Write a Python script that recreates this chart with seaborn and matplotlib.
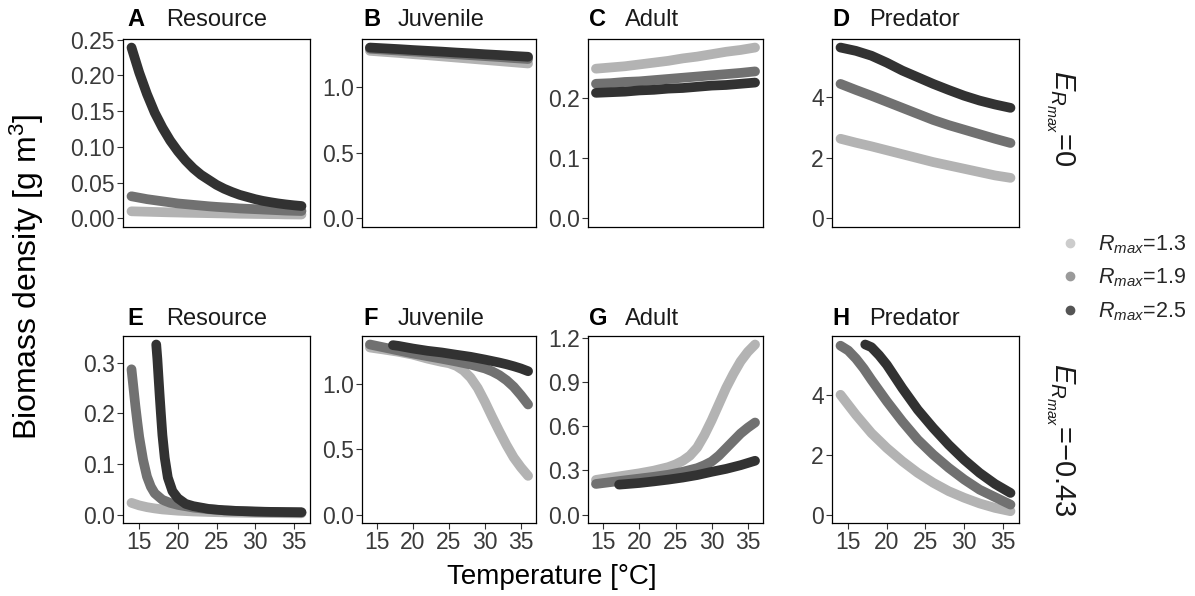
import numpy as np
import pandas as pd
import matplotlib
matplotlib.use("Agg")
import matplotlib.pyplot as plt
from matplotlib.lines import Line2D
from matplotlib.ticker import MultipleLocator, FormatStrFormatter
import seaborn as sns

# ---------------- data ----------------
RMAX_LABELS = ["Rmax=1.3", "Rmax=1.9", "Rmax=2.5"]
LINE_COLORS = ["#b3b3b3", "#717171", "#323232"]
LEGEND_COLORS = ["#cccccc", "#9a9a9a", "#555555"]

T_FULL = list(range(14, 37))
T_TOP = [14, 16, 18, 20, 22, 24, 26, 28, 30, 32, 34, 36]

# Row 1 (E_Rmax = 0)
A_light = [0.0100, 0.0097, 0.0094, 0.0091, 0.0088, 0.0085, 0.0083, 0.0080, 0.0078, 0.0076, 0.0074, 0.0072,
           0.0070, 0.0068, 0.0066, 0.0065, 0.0063, 0.0062, 0.0060, 0.0059, 0.0057, 0.0056, 0.0055]
A_mid = [0.031, 0.029, 0.027, 0.0255, 0.024, 0.0225, 0.021, 0.020, 0.019, 0.018, 0.017, 0.0162,
         0.0155, 0.0148, 0.014, 0.0135, 0.013, 0.0125, 0.012, 0.0115, 0.011, 0.0107, 0.0104]
A_dark = [0.239, 0.204, 0.174, 0.148, 0.127, 0.109, 0.094, 0.081, 0.070, 0.061, 0.054, 0.047,
          0.0415, 0.037, 0.033, 0.030, 0.027, 0.0246, 0.0227, 0.021, 0.0196, 0.0184, 0.0174]

B_light = [1.272, 1.264, 1.256, 1.247, 1.239, 1.230, 1.221, 1.212, 1.203, 1.194, 1.185, 1.176]
B_mid = [1.288, 1.281, 1.274, 1.267, 1.260, 1.253, 1.246, 1.239, 1.232, 1.225, 1.217, 1.210]
B_dark = [1.297, 1.291, 1.285, 1.278, 1.272, 1.266, 1.259, 1.253, 1.246, 1.240, 1.233, 1.227]

C_light = [0.248, 0.250, 0.252, 0.255, 0.258, 0.261, 0.265, 0.268, 0.272, 0.276, 0.279, 0.283]
C_mid = [0.223, 0.224, 0.226, 0.227, 0.229, 0.231, 0.233, 0.235, 0.237, 0.239, 0.241, 0.2435]
C_dark = [0.208, 0.209, 0.210, 0.212, 0.213, 0.215, 0.216, 0.218, 0.220, 0.221, 0.223, 0.225]

D_light = [2.63, 2.50, 2.38, 2.25, 2.12, 1.99, 1.86, 1.75, 1.64, 1.53, 1.42, 1.34]
D_mid = [4.44, 4.24, 4.05, 3.85, 3.65, 3.45, 3.25, 3.08, 2.93, 2.78, 2.63, 2.49]
D_dark = [5.64, 5.53, 5.37, 5.14, 4.88, 4.66, 4.44, 4.24, 4.05, 3.89, 3.76, 3.65]

# Row 2 (E_Rmax = -0.43)
E_light_T = [14, 15, 16, 17, 18, 20, 22, 24, 26, 28, 30, 32, 34, 36]
E_light = [0.023, 0.018, 0.0145, 0.012, 0.010, 0.0075, 0.006, 0.005, 0.0042, 0.0036, 0.0032, 0.0028, 0.0025, 0.0023]
E_mid_T = [14, 14.25, 14.5, 14.75, 15, 15.5, 16, 16.5, 17, 18, 19, 20, 22, 24, 26, 28, 30, 32, 34, 36]
E_mid = [0.287, 0.251, 0.215, 0.183, 0.153, 0.108, 0.075, 0.055, 0.042, 0.029, 0.023, 0.019,
         0.0137, 0.0104, 0.0083, 0.0068, 0.0057, 0.0049, 0.0043, 0.0038]
E_dark_T = [17.2, 17.35, 17.5, 17.65, 17.8, 18.0, 18.3, 18.7, 19.3, 20, 21, 22, 24, 26, 28, 30, 32, 34, 36]
E_dark = [0.336, 0.307, 0.270, 0.234, 0.200, 0.157, 0.112, 0.073, 0.046, 0.032, 0.021, 0.0165,
          0.011, 0.0082, 0.0068, 0.0058, 0.0052, 0.0048, 0.0045]

F_light_T = [14, 16, 18, 20, 22, 24, 25, 26, 27, 28, 29, 30, 31, 32, 33, 34, 35, 36]
F_light = [1.275, 1.259, 1.242, 1.220, 1.190, 1.165, 1.155, 1.135, 1.100, 1.045, 0.965, 0.860,
           0.745, 0.635, 0.530, 0.435, 0.360, 0.295]
F_mid_T = [14, 16, 18, 20, 22, 24, 26, 28, 30, 31, 32, 33, 34, 35, 36]
F_mid = [1.298, 1.275, 1.252, 1.229, 1.209, 1.189, 1.168, 1.145, 1.115, 1.093, 1.064, 1.025, 0.975, 0.911, 0.840]
F_dark_T = [17.2, 18, 20, 22, 24, 26, 28, 30, 32, 33, 34, 35, 36]
F_dark = [1.293, 1.287, 1.267, 1.250, 1.237, 1.220, 1.204, 1.183, 1.160, 1.147, 1.132, 1.115, 1.094]

G_light_T = [14, 16, 18, 20, 22, 24, 25, 26, 27, 28, 29, 30, 31, 32, 33, 34, 35, 36]
G_light = [0.235, 0.250, 0.265, 0.280, 0.298, 0.322, 0.340, 0.365, 0.400, 0.455, 0.540, 0.640,
           0.750, 0.860, 0.955, 1.040, 1.105, 1.155]
G_mid_T = [14, 16, 18, 20, 22, 24, 26, 28, 29, 30, 31, 32, 33, 34, 35, 36]
G_mid = [0.2075, 0.220, 0.232, 0.244, 0.256, 0.270, 0.290, 0.315, 0.335, 0.360, 0.400, 0.450,
         0.500, 0.550, 0.590, 0.625]
G_dark_T = [17.2, 18, 20, 22, 24, 26, 28, 30, 32, 34, 36]
G_dark = [0.203, 0.206, 0.214, 0.225, 0.237, 0.251, 0.268, 0.290, 0.310, 0.335, 0.365]

H_light_T = [14, 16, 18, 20, 22, 24, 26, 28, 30, 32, 34, 36]
H_light = [4.00, 3.33, 2.72, 2.22, 1.78, 1.39, 1.06, 0.78, 0.56, 0.37, 0.22, 0.11]
H_mid_T = [14, 15, 16, 17, 18, 20, 22, 24, 26, 28, 30, 32, 34, 36]
H_mid = [5.64, 5.48, 5.21, 4.88, 4.50, 3.78, 3.11, 2.50, 2.00, 1.56, 1.17, 0.83, 0.58, 0.33]
H_dark_T = [17.2, 18, 19, 20, 22, 24, 26, 28, 30, 32, 34, 36]
H_dark = [5.68, 5.59, 5.32, 5.00, 4.22, 3.50, 2.89, 2.33, 1.83, 1.39, 1.02, 0.72]

PANEL_LETTERS = ["A", "B", "C", "D", "E", "F", "G", "H"]
PANEL_NAMES = ["Resource", "Juvenile", "Adult", "Predator"] * 2
Y_STEPS = [0.05, 0.5, 0.1, 2, 0.1, 0.5, 0.3, 2]
Y_FORMATS = ["%.2f", "%.1f", "%.1f", "%d", "%.1f", "%.1f", "%.1f", "%d"]
X_TICKS = [15, 20, 25, 30, 35]
ROW_LABELS = [r"$E_{R_{max}}$=0", r"$E_{R_{max}}$=−0.43"]

PANELS = [
    [(T_FULL, A_light), (T_FULL, A_mid), (T_FULL, A_dark)],
    [(T_TOP, B_light), (T_TOP, B_mid), (T_TOP, B_dark)],
    [(T_TOP, C_light), (T_TOP, C_mid), (T_TOP, C_dark)],
    [(T_TOP, D_light), (T_TOP, D_mid), (T_TOP, D_dark)],
    [(E_light_T, E_light), (E_mid_T, E_mid), (E_dark_T, E_dark)],
    [(F_light_T, F_light), (F_mid_T, F_mid), (F_dark_T, F_dark)],
    [(G_light_T, G_light), (G_mid_T, G_mid), (G_dark_T, G_dark)],
    [(H_light_T, H_light), (H_mid_T, H_mid), (H_dark_T, H_dark)],
]

# ---------------- style ----------------
sns.set_theme(style="white")
plt.rcParams["font.family"] = ["Liberation Sans", "DejaVu Sans"]
plt.rcParams["mathtext.fontset"] = "custom"
plt.rcParams["mathtext.rm"] = "Liberation Sans"
plt.rcParams["mathtext.it"] = "Liberation Sans:italic"
plt.rcParams["mathtext.bf"] = "Liberation Sans:bold"

W, H = 1195, 596
fig = plt.figure(figsize=(W / 100, H / 100), dpi=100)
fig.patch.set_facecolor("white")

cols = [(123, 310), (362, 536), (588, 763), (832, 1019)]
rows = [(39, 227), (336, 523)]
letter_x = [127, 363, 589, 832]
word_x = [166, 398, 625, 869]
title_y = [26, 325]
row_label_y = [118, 440]


def rect(l, t, r, b):
    return [l / W, 1 - b / H, (r - l) / W, (b - t) / H]


for i, series in enumerate(PANELS):
    r, c = divmod(i, 4)
    ax = fig.add_axes(rect(cols[c][0], rows[r][0], cols[c][1], rows[r][1]))
    frames = []
    for lab, (tt, vv) in zip(RMAX_LABELS, series):
        frames.append(pd.DataFrame({"T": tt, "B": vv, "Rmax": lab}))
    df = pd.concat(frames, ignore_index=True)
    sns.lineplot(data=df, x="T", y="B", hue="Rmax", hue_order=RMAX_LABELS,
                 palette=LINE_COLORS, linewidth=7.0, legend=False, ax=ax,
                 estimator=None, sort=True, solid_capstyle="round",
                 solid_joinstyle="round")
    # ggplot-like limits: include 0, 5% expansion
    ally = df["B"].to_numpy()
    xlo, xhi = 14, 36
    xpad = 0.05 * (xhi - xlo)
    ax.set_xlim(xlo - xpad, xhi + xpad)
    ylo, yhi = min(0, ally.min()), ally.max()
    ypad = 0.05 * (yhi - ylo)
    ax.set_ylim(ylo - ypad, yhi + ypad)
    ax.yaxis.set_major_locator(MultipleLocator(Y_STEPS[i]))
    ax.yaxis.set_major_formatter(FormatStrFormatter(Y_FORMATS[i]))
    ax.set_xlabel("")
    ax.set_ylabel("")
    for s in ax.spines.values():
        s.set_visible(True)
        s.set_color("black")
        s.set_linewidth(0.9)
    ax.tick_params(axis="y", left=True, length=4, width=0.8, color="#333333",
                   labelsize=16.5, labelcolor="#3a3a3a", pad=2)
    if r == 0:
        ax.set_xticks([])
    else:
        ax.set_xticks(X_TICKS)
        ax.tick_params(axis="x", bottom=True, length=4, width=0.8, color="#333333",
                       labelsize=16.5, labelcolor="#3a3a3a", pad=2)
    fig.text(letter_x[c] / W, 1 - title_y[r] / H, PANEL_LETTERS[i], fontsize=17,
             fontweight="bold", ha="left", va="baseline", color="black")
    fig.text(word_x[c] / W, 1 - title_y[r] / H, PANEL_NAMES[i], fontsize=17,
             ha="left", va="baseline", color="#1a1a1a")

# row strip labels
for r, lab in enumerate(ROW_LABELS):
    fig.text(1060 / W, 1 - row_label_y[r] / H, lab, rotation=-90, fontsize=21,
             ha="center", va="center", color="#1a1a1a")

# axis titles
fig.text(552 / W, 1 - 577 / H, "Temperature [°C]", fontsize=20,
         ha="center", va="center", color="black")
fig.text(27 / W, 1 - 277 / H, "Biomass density [g m$^3$]", fontsize=23,
         rotation=90, ha="center", va="center", color="black")

# legend
handles = [Line2D([], [], marker="o", ls="", color=col, markersize=6)
           for col in LEGEND_COLORS]
labels = [r"$R_{max}$=1.3", r"$R_{max}$=1.9", r"$R_{max}$=2.5"]
fig.legend(handles, labels, loc="center left", bbox_to_anchor=(1059 / W, 1 - 278 / H),
           frameon=False, fontsize=15.5, handlelength=1.0, handletextpad=0.8,
           labelspacing=0.5, borderpad=0, borderaxespad=0)

fig.savefig("out.png", dpi=100, facecolor="white")
